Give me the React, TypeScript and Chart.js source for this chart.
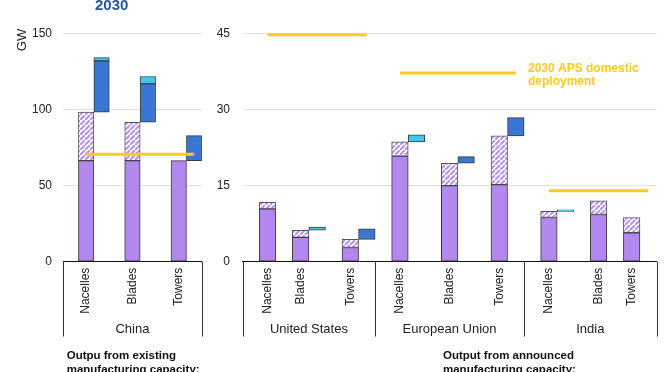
import React, { useEffect, useRef } from "react";
import { Chart, registerables } from "chart.js";

Chart.register(...registerables);

// ---------- data ----------
const componentLabels = ["Nacelles", "Blades", "Towers"];
const chinaLabel = "China";
const announcedRegionLabels = ["United States", "European Union", "India"];

const leftTicks = [0, 50, 100, 150];
const rightTicks = [0, 15, 30, 45];

// China (GW): existing capacity output (base + upper band), announced (base + upper band)
const chinaExistingBase = [66.4, 66.4, 66.4];
const chinaExistingUpper = [31.8, 25.2, 0];
const chinaAnnouncedBase = [33.7, 25.2, 16.4];
const chinaAnnouncedUpper = [2.1, 4.8, 0];
const chinaDeployment = 70.5;

// United States
const usExistingBase = [10.4, 4.8, 2.8];
const usExistingUpper = [1.3, 1.4, 1.6];
const usAnnouncedBase = [0, 0, 2.1];
const usAnnouncedUpper = [0, 0.6, 0];
const usDeployment = 44.7;

// European Union
const euExistingBase = [20.8, 15.0, 15.2];
const euExistingUpper = [2.8, 4.4, 9.6];
const euAnnouncedBase = [0, 1.3, 3.6];
const euAnnouncedUpper = [1.4, 0, 0];
const euDeployment = 37.2;

// India
const inExistingBase = [8.7, 9.3, 5.7];
const inExistingUpper = [1.2, 2.7, 3.0];
const inAnnouncedBase = [0, 0, 0];
const inAnnouncedUpper = [0.3, 0, 0];
const inDeployment = 14.0;

const deploymentLabel = ["2030 APS domestic", "deployment"];
const yearLabel = "2030";
const unitLabel = "GW";
const existingNote = ["Outpu from existing", "manufacturing capacity:"];
const announcedNote = ["Output from announced", "manufacturing capacity:"];

// ---------- style ----------
const FONT = "'Liberation Sans', Arial, sans-serif";
const PURPLE = "#B287EE";
const HATCH_PURPLE = "#B990F0";
const BLUE = "#3A76D4";
const CYAN = "#40C8F0";
const YELLOW = "#FBCB1F";
const BORDER = "#3a3a3a";
const TEXT = "#222";
const GRID = "#e2e2e2";

type Region = {
  name: string;
  slots: number[];
  span: [number, number];
  bounds: [number, number];
  base: number[];
  upper: number[];
  aBase: number[];
  aUpper: number[];
  deploy: number;
};

function makeHatch(): CanvasPattern | string {
  const s = 5;
  const c = document.createElement("canvas");
  c.width = s;
  c.height = s;
  const g = c.getContext("2d");
  if (!g) return PURPLE;
  g.fillStyle = "#ffffff";
  g.fillRect(0, 0, s, s);
  g.strokeStyle = HATCH_PURPLE;
  g.lineWidth = 2;
  g.beginPath();
  g.moveTo(-1, s + 1);
  g.lineTo(s + 1, -1);
  g.moveTo(-s - 1, 1);
  g.lineTo(1, -s - 1);
  g.moveTo(s - 1, 2 * s + 1);
  g.lineTo(2 * s + 1, s - 1);
  g.stroke();
  return g.createPattern(c, "repeat") || PURPLE;
}

function buildConfig(
  nSlots: number,
  regions: Region[],
  yTicks: number[],
  yWidth: number,
  yPad: number,
  padRight: number,
  xHeight: number,
  decor: (chart: any) => void
): any {
  const labels: string[] = new Array(nSlots).fill("");
  const existing: any[] = new Array(nSlots).fill(null);
  const upper: any[] = new Array(nSlots).fill(null);
  const blue: any[] = new Array(nSlots).fill(null);
  const cyan: any[] = new Array(nSlots).fill(null);
  const lines: any[] = [];
  regions.forEach((r) => {
    r.slots.forEach((p, k) => {
      labels[p] = componentLabels[k];
      const e = r.base[k];
      const u = r.upper[k];
      const ab = r.aBase[k];
      const au = r.aUpper[k];
      existing[p] = [0, e];
      if (u > 0) upper[p] = [e, e + u];
      if (ab > 0) blue[p + 1] = [e + u, e + u + ab];
      if (au > 0) cyan[p + 1] = [e + u + ab, e + u + ab + au];
    });
    const ld: any[] = new Array(nSlots).fill(null);
    for (let i = r.span[0]; i <= r.span[1]; i++) ld[i] = r.deploy;
    lines.push({
      type: "line",
      data: ld,
      borderColor: YELLOW,
      borderWidth: 3,
      pointRadius: 0,
      spanGaps: false,
      fill: false,
      borderCapStyle: "butt",
      order: 0,
    });
  });
  const barCommon = {
    type: "bar",
    grouped: false,
    barPercentage: 1,
    categoryPercentage: 1,
    borderWidth: 1,
    borderColor: BORDER,
    borderSkipped: false,
    order: 1,
  };
  const hatch = makeHatch();
  return {
    type: "bar",
    data: {
      labels,
      datasets: [
        { ...barCommon, data: existing, backgroundColor: PURPLE },
        { ...barCommon, data: upper, backgroundColor: hatch, borderColor: "#555" },
        { ...barCommon, data: blue, backgroundColor: BLUE },
        { ...barCommon, data: cyan, backgroundColor: CYAN },
        ...lines,
      ],
    },
    options: {
      responsive: false,
      animation: false,
      devicePixelRatio: 1,
      events: [],
      layout: { padding: { left: 0, right: padRight, top: 33.3, bottom: 0 } },
      plugins: { legend: { display: false }, tooltip: { enabled: false }, title: { display: false } },
      scales: {
        x: {
          type: "category",
          offset: true,
          grid: { display: false, drawTicks: false },
          border: { display: true, color: "#111", width: 1 },
          ticks: {
            autoSkip: false,
            minRotation: 90,
            maxRotation: 90,
            padding: 6,
            color: TEXT,
            font: { family: FONT, size: 12 },
          },
          afterFit: (s: any) => {
            s.height = xHeight;
          },
        },
        y: {
          min: yTicks[0],
          max: yTicks[yTicks.length - 1],
          afterBuildTicks: (s: any) => {
            s.ticks = yTicks.map((v) => ({ value: v }));
          },
          grid: {
            drawTicks: false,
            color: (ctx: any) => (ctx.tick && ctx.tick.value === 0 ? "rgba(0,0,0,0)" : GRID),
            lineWidth: 1,
          },
          border: { display: false },
          ticks: { padding: yPad, color: TEXT, font: { family: FONT, size: 12 } },
          afterFit: (s: any) => {
            s.width = yWidth;
          },
        },
      },
    },
    plugins: [{ id: "decor", afterDraw: decor }],
  };
}

function drawBrackets(chart: any, regions: Region[]) {
  const ctx = chart.ctx;
  const area = chart.chartArea;
  const n = chart.data.labels.length;
  const w = (area.right - area.left) / n;
  const edge = (v: number) => area.left + (v + 0.5) * w;
  ctx.save();
  ctx.strokeStyle = "#333";
  ctx.lineWidth = 1;
  const xsSet = new Set<number>();
  regions.forEach((r) => {
    xsSet.add(edge(r.bounds[0]));
    xsSet.add(edge(r.bounds[1]));
  });
  xsSet.forEach((x) => {
    ctx.beginPath();
    ctx.moveTo(Math.round(x) + 0.5, area.bottom);
    ctx.lineTo(Math.round(x) + 0.5, 336.5);
    ctx.stroke();
  });
  ctx.fillStyle = TEXT;
  ctx.font = `13px ${FONT}`;
  ctx.textAlign = "center";
  ctx.textBaseline = "middle";
  regions.forEach((r) => {
    const cx = (edge(r.bounds[0]) + edge(r.bounds[1])) / 2;
    ctx.fillText(r.name, cx, 329);
  });
  ctx.restore();
}

function drawNote(ctx: any, lines: string[], x: number) {
  ctx.save();
  ctx.fillStyle = "#111";
  ctx.font = `bold 11.5px ${FONT}`;
  ctx.textAlign = "left";
  ctx.textBaseline = "alphabetic";
  ctx.fillText(lines[0], x, 358.5);
  ctx.fillText(lines[1], x, 372.5);
  ctx.restore();
}

const chinaRegions: Region[] = [
  {
    name: chinaLabel,
    slots: [1, 4, 7],
    span: [1, 8],
    bounds: [-0.5, 8.5],
    base: chinaExistingBase,
    upper: chinaExistingUpper,
    aBase: chinaAnnouncedBase,
    aUpper: chinaAnnouncedUpper,
    deploy: chinaDeployment,
  },
];

const otherRegions: Region[] = [
  {
    name: announcedRegionLabels[0],
    slots: [1, 3, 6],
    span: [1, 7],
    bounds: [-0.5, 7.5],
    base: usExistingBase,
    upper: usExistingUpper,
    aBase: usAnnouncedBase,
    aUpper: usAnnouncedUpper,
    deploy: usDeployment,
  },
  {
    name: announcedRegionLabels[1],
    slots: [9, 12, 15],
    span: [9, 16],
    bounds: [7.5, 16.5],
    base: euExistingBase,
    upper: euExistingUpper,
    aBase: euAnnouncedBase,
    aUpper: euAnnouncedUpper,
    deploy: euDeployment,
  },
  {
    name: announcedRegionLabels[2],
    slots: [18, 21, 23],
    span: [18, 24],
    bounds: [16.5, 24.5],
    base: inExistingBase,
    upper: inExistingUpper,
    aBase: inAnnouncedBase,
    aUpper: inAnnouncedUpper,
    deploy: inDeployment,
  },
];

const LEFT_W = 215;
const RIGHT_W = 672 - LEFT_W;
const H = 372;

export default function App() {
  const leftRef = useRef<HTMLCanvasElement>(null);
  const rightRef = useRef<HTMLCanvasElement>(null);

  useEffect(() => {
    if (!leftRef.current || !rightRef.current) return;
    const left = new Chart(
      leftRef.current,
      buildConfig(9, chinaRegions, leftTicks, 63, 11, 8, H - 261.7, (chart: any) => {
        drawBrackets(chart, chinaRegions);
        const ctx = chart.ctx;
        ctx.save();
        ctx.fillStyle = TEXT;
        ctx.font = `13px ${FONT}`;
        ctx.textAlign = "center";
        ctx.textBaseline = "middle";
        ctx.translate(22, 40);
        ctx.rotate(-Math.PI / 2);
        ctx.fillText(unitLabel, 0, 0);
        ctx.restore();
        ctx.save();
        ctx.fillStyle = "#2456A6";
        ctx.font = `bold 15px ${FONT}`;
        ctx.textAlign = "left";
        ctx.textBaseline = "alphabetic";
        ctx.fillText(yearLabel, 95, 9.5);
        ctx.restore();
        drawNote(ctx, existingNote, 66.7);
      })
    );
    const right = new Chart(
      rightRef.current,
      buildConfig(25, otherRegions, rightTicks, 242.7 - LEFT_W, 12.7, 15.5, H - 261.7, (chart: any) => {
        drawBrackets(chart, otherRegions);
        const ctx = chart.ctx;
        ctx.save();
        ctx.fillStyle = YELLOW;
        ctx.font = `bold 12px ${FONT}`;
        ctx.textAlign = "left";
        ctx.textBaseline = "alphabetic";
        ctx.fillText(deploymentLabel[0], 528 - LEFT_W, 71.5);
        ctx.fillText(deploymentLabel[1], 528 - LEFT_W, 84.5);
        ctx.restore();
        drawNote(ctx, announcedNote, 443 - LEFT_W);
      })
    );
    return () => {
      left.destroy();
      right.destroy();
    };
  }, []);

  return (
    <div style={{ position: "absolute", left: 0, top: 0, width: 672, height: H, background: "#fff", overflow: "hidden" }}>
      <canvas
        ref={leftRef}
        width={LEFT_W}
        height={H}
        style={{ position: "absolute", left: 0, top: 0, width: LEFT_W, height: H }}
      />
      <canvas
        ref={rightRef}
        width={RIGHT_W}
        height={H}
        style={{ position: "absolute", left: LEFT_W, top: 0, width: RIGHT_W, height: H }}
      />
    </div>
  );
}
